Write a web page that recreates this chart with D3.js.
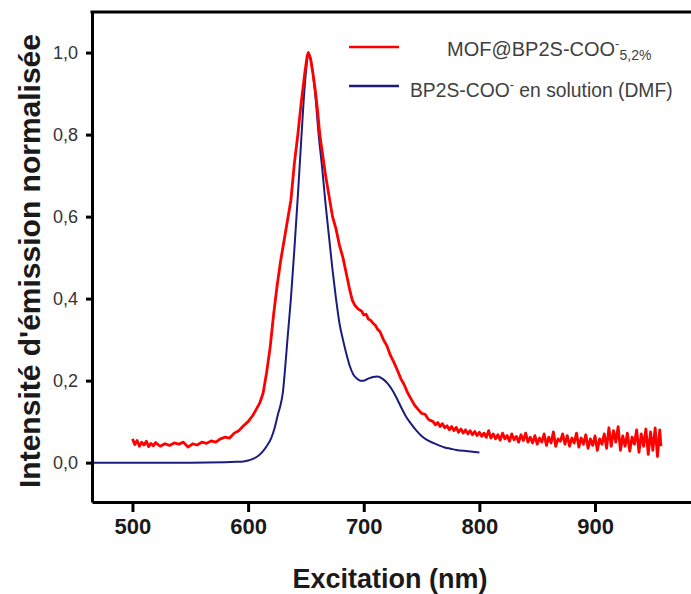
<!DOCTYPE html>
<html><head><meta charset="utf-8">
<script src="https://cdn.jsdelivr.net/npm/d3@7"></script>
<style>body{margin:0;background:#fff}svg{display:block}</style>
</head><body>
<script>
// ---- data ----
const xTicks = [500, 600, 700, 800, 900];
const yTicks = [0, 0.2, 0.4, 0.6, 0.8, 1.0];
const seriesNames = ["MOF@BP2S-COO", "BP2S-COO"];
const redX = [500,502,504,506,508,510,512,514,516,518,520,524,528,532,536,540,544,548,552,556,560,564,568,572,576,580,584,588,592,596,600,604,607,610,613,616,619,622,625,628,631,634,637,640,643,646,649,651,652,654,656,658,660,662,664,667,670,673,676,679,682,685,688,690,692,695,698,700,702,704,706,708,710,712,714,717,720,723,726,729,732,735,738,741,744,747,750,753,756,
  760,762,764,766,768,770,772,774,776,778,780,782,784,786,788,790,792,794,796,798,800,802,804,806,808,810,812,814,816,818,820,822,824,826,828,830,832,834,836,838,840,842,844,846,848,850,852,854,856,858,860,862,864,866,868,870,872,874,876,878,880,882,884,886,888,890,892,894,896,898,900,902,904,906,908,910,912,914,916,918,920,922,924,926,928,930,932,934,936,938,940,942,944,946,948,950,952,954,956,957];
const redY = [0.058,0.044,0.054,0.04,0.05,0.043,0.052,0.039,0.047,0.041,0.049,0.04,0.046,0.042,0.048,0.045,0.05,0.038,0.046,0.043,0.05,0.047,0.053,0.05,0.058,0.062,0.06,0.072,0.078,0.09,0.1,0.115,0.13,0.145,0.17,0.22,0.28,0.36,0.43,0.49,0.54,0.59,0.64,0.73,0.8,0.88,0.95,0.99,1.0,0.985,0.95,0.91,0.86,0.8,0.76,0.7,0.65,0.6,0.57,0.53,0.5,0.46,0.42,0.397,0.385,0.375,0.37,0.36,0.362,0.35,0.347,0.34,0.335,0.325,0.32,0.3,0.285,0.262,0.245,0.226,0.205,0.19,0.17,0.155,0.14,0.13,0.12,0.118,0.105,
  0.1,0.092,0.098,0.088,0.095,0.085,0.09,0.08,0.088,0.078,0.086,0.074,0.082,0.072,0.08,0.07,0.078,0.068,0.076,0.066,0.074,0.064,0.072,0.062,0.078,0.06,0.07,0.058,0.068,0.055,0.072,0.058,0.066,0.052,0.07,0.056,0.064,0.05,0.068,0.054,0.072,0.05,0.062,0.048,0.066,0.045,0.06,0.05,0.07,0.042,0.062,0.048,0.075,0.04,0.058,0.052,0.07,0.045,0.066,0.04,0.06,0.048,0.072,0.038,0.06,0.045,0.068,0.035,0.058,0.042,0.065,0.03,0.058,0.045,0.07,0.035,0.085,0.04,0.078,0.05,0.088,0.03,0.065,0.04,0.072,0.028,0.062,0.045,0.08,0.025,0.07,0.04,0.082,0.02,0.075,0.03,0.085,0.015,0.08,0.04];
const blueX = [465,500,550,580,590,596,600,604,608,612,616,620,623,626,628,630,632,634,637,640,643,646,649,651,652,653,655,658,661,664,667,670,673,676,679,682,685,688,691,694,697,700,704,708,712,716,720,724,728,732,736,740,745,750,755,760,765,770,775,780,790,800];
const blueY = [0,0,0,0.001,0.002,0.003,0.005,0.009,0.015,0.025,0.04,0.06,0.085,0.12,0.14,0.17,0.23,0.3,0.4,0.52,0.65,0.79,0.92,0.98,1.0,0.995,0.97,0.9,0.8,0.72,0.63,0.55,0.47,0.4,0.34,0.3,0.265,0.235,0.215,0.205,0.2,0.2,0.205,0.209,0.21,0.205,0.195,0.18,0.16,0.137,0.115,0.098,0.08,0.065,0.055,0.048,0.042,0.037,0.034,0.031,0.028,0.025];

// ---- layout ----
const W = 691, H = 594;
const L = 92, R = 691, T = 12, B = 502;
const svg = d3.select("body").append("svg").attr("width", W).attr("height", H);
const x = d3.scaleLinear().domain([465, 983]).range([L, R]);
const y = d3.scaleLinear().domain([-0.096, 1.099]).range([B, T]);
const FONT = "'Liberation Sans', Arial, sans-serif";

// curves
const red = redX.map((v, i) => [v, redY[i]]);
const blue = blueX.map((v, i) => [v, blueY[i]]);
svg.append("path").datum(blue)
  .attr("d", d3.line().x(d => x(d[0])).y(d => y(d[1])).curve(d3.curveMonotoneX))
  .attr("fill", "none").attr("stroke", "#1c1c7e").attr("stroke-width", 2);
svg.append("path").datum(red)
  .attr("d", d3.line().x(d => x(d[0])).y(d => y(d[1])))
  .attr("fill", "none").attr("stroke", "#ff0000").attr("stroke-width", 2.8).attr("stroke-linejoin", "round");

// axes
const gx = svg.append("g").attr("transform", `translate(0,${B})`)
  .call(d3.axisBottom(x).tickValues(xTicks).tickSize(10).tickSizeOuter(0).tickPadding(6));
const gy = svg.append("g").attr("transform", `translate(${L},0)`)
  .call(d3.axisLeft(y).tickValues(yTicks).tickSize(6).tickSizeOuter(0).tickPadding(8)
    .tickFormat(d => d3.format(".1f")(d).replace(".", ",")));
[gx, gy].forEach(g => {
  g.select(".domain").attr("stroke", "#000").attr("stroke-width", 3);
  g.selectAll(".tick line").attr("stroke", "#000").attr("stroke-width", 3);
});
gx.selectAll(".tick text").attr("font-family", FONT).attr("font-size", 22).attr("font-weight", "bold").attr("fill", "#1a1a1a");
gy.selectAll(".tick text").attr("font-family", FONT).attr("font-size", 18).attr("fill", "#333");
svg.append("line").attr("x1", L - 1.5).attr("x2", R).attr("y1", T).attr("y2", T)
  .attr("stroke", "#000").attr("stroke-width", 3);

// titles
svg.append("text").attr("x", 390).attr("y", 588).attr("text-anchor", "middle")
  .attr("font-family", FONT).attr("font-weight", "bold").attr("font-size", 27).attr("fill", "#1a1a1a")
  .text("Excitation (nm)");
svg.append("text").attr("transform", "translate(40,261) rotate(-90)").attr("text-anchor", "middle")
  .attr("font-family", FONT).attr("font-weight", "bold").attr("font-size", 30).attr("fill", "#1a1a1a")
  .text("Intensité d'émission normalisée");

// legend
const LF = "'Liberation Sans', Arial, sans-serif";
svg.append("line").attr("x1", 349).attr("x2", 399).attr("y1", 47).attr("y2", 47).attr("stroke", "#ff0000").attr("stroke-width", 2.6);
svg.append("line").attr("x1", 349).attr("x2", 399).attr("y1", 86).attr("y2", 86).attr("stroke", "#1c1c7e").attr("stroke-width", 2.6);
const t1 = svg.append("text").attr("x", 447).attr("y", 56).attr("font-family", LF).attr("font-size", 20).attr("fill", "#404040");
t1.append("tspan").text(seriesNames[0]);
t1.append("tspan").attr("dy", -8).attr("font-size", 13).text("-");
t1.append("tspan").attr("dy", 12).attr("font-size", 14).text("5,2%");
const t2 = svg.append("text").attr("x", 410).attr("y", 97).attr("font-family", LF).attr("font-size", 19.3).attr("fill", "#404040");
t2.append("tspan").text(seriesNames[1]);
t2.append("tspan").attr("dy", -8).attr("font-size", 13).text("-");
t2.append("tspan").attr("dy", 8).text(" en solution (DMF)");
</script>
</body></html>
